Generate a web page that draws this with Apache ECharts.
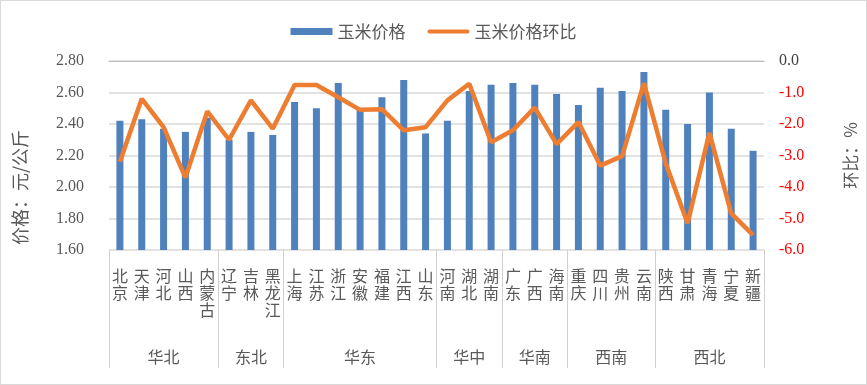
<!DOCTYPE html>
<html>
<head>
<meta charset="utf-8">
<script src="https://cdn.jsdelivr.net/npm/echarts@6/dist/echarts.min.js"></script>
<style>
html,body{margin:0;padding:0;background:#fff;}
#frame{position:absolute;left:0;top:0;width:865px;height:383px;border:1px solid #d9d9d9;}
#chart{position:absolute;left:0;top:0;width:867px;height:385px;}
</style>
</head>
<body>
<div id="frame"></div>
<div id="chart"></div>
<script>
const regions = ['华北','东北','华东','华中','华南','西南','西北'];
const regionSizes = [5,3,7,3,3,4,5];
const provinces = ['北京','天津','河北','山西','内蒙古','辽宁','吉林','黑龙江','上海','江苏','浙江','安徽','福建','江西','山东','河南','湖北','湖南','广东','广西','海南','重庆','四川','贵州','云南','陕西','甘肃','青海','宁夏','新疆'];
const price = [2.42,2.43,2.37,2.35,2.44,2.30,2.35,2.33,2.54,2.50,2.66,2.50,2.57,2.68,2.34,2.42,2.61,2.65,2.66,2.65,2.59,2.52,2.63,2.61,2.73,2.49,2.40,2.60,2.37,2.23];
const mom = [-3.2,-1.2,-2.1,-3.7,-1.6,-2.5,-1.25,-2.15,-0.76,-0.76,-1.15,-1.55,-1.53,-2.2,-2.1,-1.25,-0.72,-2.58,-2.2,-1.48,-2.64,-1.94,-3.32,-3.02,-0.7,-3.25,-5.15,-2.28,-4.84,-5.53];
const seriesNames = ['玉米价格','玉米价格环比'];
const leftAxisName = '价格：元/公斤';
const rightAxisName = '环比：%';

// Build half-slot region axis (61 positions) so region names sit at group centres
const halfCount = provinces.length * 2 + 1;
const regionAxisData = new Array(halfCount).fill('');
const boundaries = new Set([0]);
let start = 0;
regions.forEach((r, i) => {
  const n = regionSizes[i];
  regionAxisData[2 * start + n] = r;
  start += n;
  boundaries.add(2 * start);
});
const regionAxisCats = regionAxisData.map((v, i) => v === '' ? ' '.repeat(i % 7 + 1) + '\u200b'.repeat(Math.floor(i / 7)) : v);

const chart = echarts.init(document.getElementById('chart'), null, {renderer: 'canvas'});
const txt = '#595959';
const font = '"Noto Sans CJK SC", sans-serif';
chart.setOption({
  animation: false,
  legend: {
    top: 18,
    left: 'center',
    itemGap: 22,
    itemWidth: 42,
    itemHeight: 7,
    textStyle: {fontSize: 17, color: txt, fontFamily: font},
    data: [
      {name: seriesNames[0], icon: 'rect'},
      {name: seriesNames[1], icon: 'path://M0,0L0,0M2,1.5L42,1.5A2,2,0,0,1,42,5.5L2,5.5A2,2,0,0,1,2,1.5ZM0,7L0,7', itemStyle: {color: '#ed7d31'}}
    ]
  },
  grid: {left: 109, right: 100, top: 61, bottom: 135},
  xAxis: [
    {
      type: 'category',
      data: provinces,
      position: 'bottom',
      axisLine: {lineStyle: {color: '#bfbfbf', width: 1}},
      axisTick: {show: false},
      axisLabel: {
        interval: 0,
        margin: 17,
        fontSize: 16,
        lineHeight: 17,
        color: txt,
        fontFamily: font,
        formatter: v => v.split('').join('\n')
      }
    },
    {
      type: 'category',
      data: regionAxisCats,
      position: 'bottom',
      boundaryGap: false,
      axisLine: {show: false},
      axisTick: {
        show: true,
        length: 118,
        inside: false,
        interval: (idx) => boundaries.has(idx),
        lineStyle: {color: '#d0d0d0', width: 1}
      },
      axisLabel: {
        interval: 0,
        margin: 99,
        fontSize: 16,
        color: txt,
        fontFamily: font,
        formatter: v => v.trim().replace(/\u200b/g, '')
      }
    }
  ],
  yAxis: [
    {
      type: 'value',
      min: 1.6, max: 2.8, interval: 0.2,
      name: leftAxisName,
      nameLocation: 'middle',
      nameRotate: 90,
      nameGap: 80,
      nameTextStyle: {fontSize: 18, color: txt, fontFamily: font, padding: [0, 64, 0, 0]},
      axisLine: {show: false},
      axisTick: {show: false},
      splitLine: {lineStyle: {color: '#d9d9d9', width: 1.5}},
      axisLabel: {margin: 25, fontSize: 16, color: txt, fontFamily: '"Liberation Serif", serif', formatter: v => v.toFixed(2)}
    },
    {
      type: 'value',
      min: -6, max: 0, interval: 1,
      name: rightAxisName,
      nameLocation: 'middle',
      nameRotate: 90,
      nameGap: 78,
      nameTextStyle: {fontSize: 17, color: txt, fontFamily: font},
      axisLine: {show: false},
      axisTick: {show: false},
      splitLine: {show: false},
      axisLabel: {
        margin: 15, fontSize: 16, fontFamily: '"Liberation Serif", serif',
        color: v => (Number(v) < 0 ? '#ff0000' : '#404040'),
        formatter: v => v.toFixed(1)
      }
    }
  ],
  series: [
    {
      name: seriesNames[0],
      type: 'bar',
      data: price,
      barWidth: 7,
      itemStyle: {color: '#4f81bd'}
    },
    {
      name: seriesNames[1],
      type: 'line',
      yAxisIndex: 1,
      data: mom,
      symbol: 'none',
      lineStyle: {color: '#ed7d31', width: 4.5},
      itemStyle: {color: '#ed7d31'}
    }
  ]
});
</script>
</body>
</html>
